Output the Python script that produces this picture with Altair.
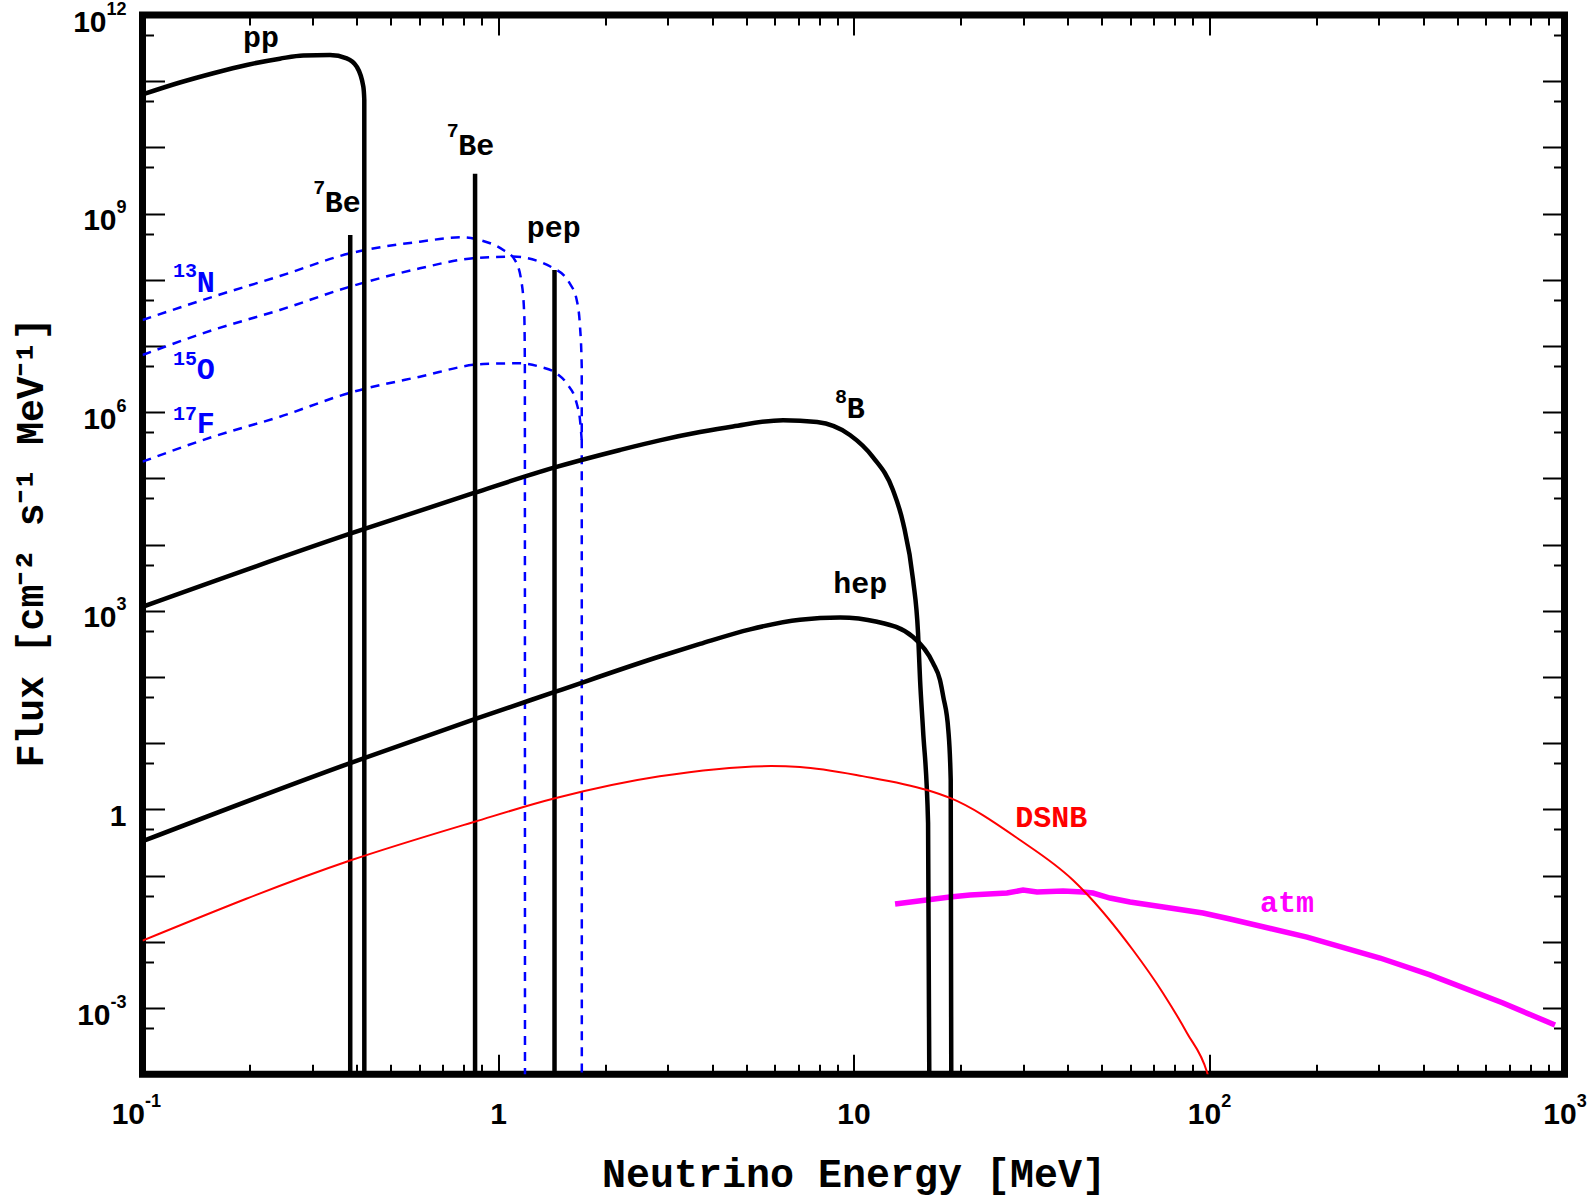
import math
import altair as alt
import pandas as pd

# ---------------- data ----------------
# energies in MeV, fluxes in cm^-2 s^-1 MeV^-1
pp_E = [0.1, 0.1274, 0.1582, 0.1964, 0.2435, 0.2834, 0.3369, 0.3753, 0.4004, 0.4179, 0.4206, 0.4207]
pp_F = [6.3e10, 9.55e10, 1.32e11, 1.76e11, 2.19e11, 2.45e11, 2.48e11, 2.21e11, 1.66e11, 8.32e10, 5.25e10, 1e-5]

n13_E = [0.1, 0.158, 0.2435, 0.3835, 0.603, 0.799, 0.890, 1.035, 1.116, 1.166, 1.186, 1.190, 1.191]
n13_F = [2.47e7, 5.56e7, 1.14e8, 2.51e8, 3.77e8, 4.39e8, 3.98e8, 2.82e8, 1.99e8, 8.85e7, 2.75e7, 4.85e6, 1e-5]

o15_E = [0.1, 0.158, 0.2435, 0.3835, 0.603, 0.852, 1.102, 1.428, 1.594, 1.665, 1.701, 1.720, 1.721]
o15_F = [7.31e6, 1.75e7, 3.50e7, 7.87e7, 1.49e8, 2.12e8, 2.24e8, 1.51e8, 8.71e7, 4.95e7, 1.96e7, 4.88e6, 1e-5]

f17_E = [0.1, 0.158, 0.2435, 0.3835, 0.603, 0.909, 1.153, 1.313, 1.462, 1.561, 1.665, 1.701, 1.720]
f17_F = [1.79e5, 4.27e5, 8.55e5, 1.97e6, 3.44e6, 5.35e6, 5.48e6, 4.85e6, 3.85e6, 2.72e6, 1.35e6, 7.62e5, 3.80e5]

b8_E = [0.1, 0.3837, 0.856, 1.428, 2.204, 2.849, 3.70, 4.58, 6.34, 7.90, 9.77, 11.34, 12.91, 13.79,
        14.71, 15.19, 15.39, 15.69, 16.21, 16.37]
b8_F = [1.15e3, 1.46e4, 6.03e4, 1.44e5, 2.69e5, 3.76e5, 5.01e5, 6.10e5, 7.59e5, 7.11e5, 4.53e5, 2.10e5,
        6.68e4, 2.12e4, 2.92e3, 462, 90.2, 15.8, 0.624, 1e-5]

hep_E = [0.1, 0.3837, 0.856, 1.437, 2.849, 3.70, 5.12, 7.07, 9.17, 11.65, 14.71, 16.74, 17.51, 17.89,
         18.48, 18.77, 18.85]
hep_F = [0.330, 5.01, 22.9, 58.9, 204, 316, 525, 733, 794, 684, 402, 162, 90.2, 50.1, 15.8, 2.78, 1e-5]

dsnb_E = [0.1, 0.3837, 0.8553, 1.437, 2.849, 5.87, 7.07, 10.6, 16.1, 18.68, 29.4, 41.4, 44.2, 61.1,
          74.2, 86.7, 98.7, 100.0]
dsnb_F = [0.0104, 0.169, 0.647, 1.46, 3.16, 4.51, 4.37, 3.18, 1.96, 1.49, 0.345, 0.0859, 0.0607,
          0.00752, 0.00169, 4.19e-4, 1.08e-4, 8.5e-5]

atm_E = [13.09, 18.68, 21.27, 27.03, 29.99, 32.83, 38.85, 44.21, 47.17, 52.66, 59.95, 77.7, 96.2,
         114.6, 188.7, 302.7, 418.6, 671.4, 940.4]
atm_F = [0.0372, 0.0475, 0.0509, 0.0546, 0.0605, 0.0565, 0.0585, 0.0565, 0.0546, 0.0458, 0.0399,
         0.0324, 0.0272, 0.0221, 0.0118, 0.00569, 0.00316, 0.00119, 5.53e-4]

# mono-energetic lines: 7Be (two) and pep
line_E = [0.384, 0.862, 1.442]
line_F = [4.75e8, 4.0e9, 1.41e8]
line_floor = [1e-4, 1e-4, 1e-4]

# annotation labels (left edge / baseline position in data units)
lab_text = ["pp", "Be", "Be", "pep", "N", "O", "F", "B", "hep", "DSNB", "atm"]
lab_E = [0.1918, 0.3255, 0.773, 1.204, 0.142, 0.142, 0.142, 9.57, 8.77, 28.5, 139.2]
lab_F = [3.32e11, 1.06e9, 7.67e9, 4.44e8, 6.61e7, 3.18e6, 4.85e5, 8.09e5, 1.84e3, 0.548, 0.0285]
lab_color = ["black", "black", "black", "black", "blue", "blue", "blue", "black", "black", "red", "magenta"]

sup_text = ["7", "7", "13", "15", "17", "8"]
sup_E = [0.302, 0.717, 0.1219, 0.1219, 0.1219, 8.87]
sup_F = [1.98e9, 1.44e10, 1.10e8, 5.16e6, 7.62e5, 1.36e6]
sup_color = ["black", "black", "blue", "blue", "blue", "black"]

# axes
x_domain = [0.1, 1000]
y_domain = [1e-4, 1e12]
x_label_values = [0.1, 1, 10, 100, 1000]
x_label_base = ["10", "1", "10", "10", "10"]
x_label_exp = ["-1", "", "", "2", "3"]
y_label_values = [1e-3, 1, 1e3, 1e6, 1e9, 1e12]
y_label_base = ["10", "1", "10", "10", "10", "10"]
y_label_exp = ["-3", "", "3", "6", "9", "12"]
x_major = [0.1, 1, 10, 100, 1000]
x_minor = [0.2, 0.3, 0.4, 0.5, 0.6, 0.7, 0.8, 0.9,
           2, 3, 4, 5, 6, 7, 8, 9,
           20, 30, 40, 50, 60, 70, 80, 90,
           200, 300, 400, 500, 600, 700, 800, 900]
y_major = [1e-4, 1e-3, 1e-2, 1e-1, 1, 1e1, 1e2, 1e3, 1e4, 1e5, 1e6, 1e7, 1e8, 1e9, 1e10, 1e11, 1e12]
y_minor = [5e-4, 5e-3, 5e-2, 5e-1, 5, 5e1, 5e2, 5e3, 5e4, 5e5, 5e6, 5e7, 5e8, 5e9, 5e10, 5e11]

# ---------------- chart ----------------
MONO = "Liberation Mono"
SANS = "Liberation Sans"
BASE_SIZE = 30
EXP_SIZE = 18

xs = alt.Scale(type="log", domain=x_domain, nice=False)
ys = alt.Scale(type="log", domain=y_domain, nice=False)


def label_expr(values, labels):
    e = "round(log(datum.value)/LN10)"
    s = ""
    for v, lab in zip(values, labels):
        s += f"{e}=={round(math.log10(v))} ? '{lab}' : "
    return s + "''"


X_BASE = label_expr(x_label_values, x_label_base)
X_EXP = label_expr(x_label_values, x_label_exp)
Y_BASE = label_expr(y_label_values, y_label_base)
Y_EXP = label_expr(y_label_values, y_label_exp)


def curve(E, F, color, width, dash=None, interp="monotone"):
    df = pd.DataFrame({"E": E, "F": F})
    kw = dict(color=color, strokeWidth=width, clip=True, interpolate=interp)
    if dash is not None:
        kw["strokeDash"] = dash
    return alt.Chart(df).mark_line(**kw).encode(
        x=alt.X("E:Q", scale=xs, axis=None),
        y=alt.Y("F:Q", scale=ys, axis=None),
    )


DASH = [9, 7]
atm = curve(atm_E, atm_F, "#FF00FF", 5.5, interp="linear")
n13 = curve(n13_E, n13_F, "#0000FF", 2.5, DASH)
o15 = curve(o15_E, o15_F, "#0000FF", 2.5, DASH)
f17 = curve(f17_E, f17_F, "#0000FF", 2.5, DASH)
pp = curve(pp_E, pp_F, "black", 4.5)
b8 = curve(b8_E, b8_F, "black", 4.5)
hep = curve(hep_E, hep_F, "black", 4.5)
dsnb = curve(dsnb_E, dsnb_F, "#FF0000", 2)

lines = alt.Chart(pd.DataFrame({"E": line_E, "F": line_F, "F0": line_floor})).mark_rule(
    color="black", strokeWidth=4.5, clip=True
).encode(
    x=alt.X("E:Q", scale=xs, axis=None),
    y=alt.Y("F:Q", scale=ys, axis=None),
    y2="F0:Q",
)

labels = alt.Chart(pd.DataFrame({"t": lab_text, "E": lab_E, "F": lab_F, "c": lab_color})).mark_text(
    font=MONO, fontWeight="bold", fontSize=30, align="left", baseline="alphabetic"
).encode(
    x=alt.X("E:Q", scale=xs, axis=None),
    y=alt.Y("F:Q", scale=ys, axis=None),
    text="t:N",
    color=alt.Color("c:N", scale=None),
)

sups = alt.Chart(pd.DataFrame({"t": sup_text, "E": sup_E, "F": sup_F, "c": sup_color})).mark_text(
    font=MONO, fontWeight="bold", fontSize=20, align="left", baseline="alphabetic"
).encode(
    x=alt.X("E:Q", scale=xs, axis=None),
    y=alt.Y("F:Q", scale=ys, axis=None),
    text="t:N",
    color=alt.Color("c:N", scale=None),
)

corner = pd.DataFrame({"E": x_domain, "F": y_domain})


def axis_layer(xaxis, yaxis):
    return alt.Chart(corner).mark_point(opacity=0).encode(
        x=alt.X("E:Q", scale=xs, axis=xaxis),
        y=alt.Y("F:Q", scale=ys, axis=yaxis),
    )


def tick_axis(orient, values, size):
    return alt.Axis(
        orient=orient, values=values, labels=False, domain=False, grid=False,
        ticks=True, tickSize=size, tickWidth=2, tickColor="black",
        offset=-size, title=None,
    )


def xlab(values, expr, size, align, offset, padding, **kw):
    d = dict(
        orient="bottom", values=values, labelExpr=expr, ticks=False, domain=False, grid=False,
        labelFont=SANS, labelFontWeight="bold", labelFontSize=size, labelColor="black",
        labelAlign=align, labelOffset=offset, labelPadding=padding, labelBaseline="alphabetic",
        labelFlush=False, labelOverlap=False, title=None,
    )
    d.update(kw)
    return alt.Axis(**d)


def ylab(values, expr, size, padding, offset, **kw):
    d = dict(
        orient="left", values=values, labelExpr=expr, ticks=False, domain=False, grid=False,
        labelFont=SANS, labelFontWeight="bold", labelFontSize=size, labelColor="black",
        labelAlign="right", labelOffset=offset, labelPadding=padding, labelBaseline="alphabetic",
        labelFlush=False, labelOverlap=False, title=None,
    )
    d.update(kw)
    return alt.Axis(**d)


x_title = dict(
    title="Neutrino Energy [MeV]", titleFont=MONO, titleFontWeight="bold",
    titleFontSize=40, titleColor="black", titleY=112, titleBaseline="alphabetic",
)
y_title = dict(
    title="Flux [cm⁻² s⁻¹ MeV⁻¹]", titleFont=MONO, titleFontWeight="bold",
    titleFontSize=38, titleColor="black", titleAngle=270, titleX=-100,
    titleY=527, titleAlign="center", titleBaseline="alphabetic",
)

label_layers = [
    axis_layer(
        xlab([1, 10], X_BASE, BASE_SIZE, "center", 0, 49, **x_title),
        ylab([1], Y_BASE, BASE_SIZE, 16.5, 16, **y_title),
    ),
    axis_layer(
        xlab([100, 1000], X_BASE, BASE_SIZE, "right", 11.7, 49),
        ylab([1e3, 1e6, 1e9], Y_BASE, BASE_SIZE, 26.5, 16),
    ),
    axis_layer(
        xlab([0.1], X_BASE, BASE_SIZE, "right", 2, 49),
        ylab([1e12], Y_BASE, BASE_SIZE, 36.5, 16),
    ),
    axis_layer(
        xlab([100, 1000], X_EXP, EXP_SIZE, "left", 11.7, 32),
        ylab([1e-3], Y_BASE, BASE_SIZE, 32.5, 16),
    ),
    axis_layer(
        xlab([0.1], X_EXP, EXP_SIZE, "left", 2, 32),
        ylab([1e-3, 1e3, 1e6, 1e9, 1e12], Y_EXP, EXP_SIZE, 16.5, -1),
    ),
]

tick_layers = [
    axis_layer(tick_axis("bottom", x_major, 20), tick_axis("left", y_major, 22)),
    axis_layer(tick_axis("bottom", x_minor, 10), tick_axis("left", y_minor, 11)),
    axis_layer(tick_axis("top", x_major, 20), tick_axis("right", y_major, 22)),
    axis_layer(tick_axis("top", x_minor, 10), tick_axis("right", y_minor, 11)),
]

chart = alt.layer(
    atm, n13, o15, f17, lines, pp, b8, hep, dsnb, labels, sups, *label_layers, *tick_layers
).resolve_axis(
    x="independent", y="independent"
).properties(
    width=1422, height=1059.2,
    autosize=alt.AutoSizeParams(type="none"),
    padding={"left": 142.5, "top": 15, "right": 26.5, "bottom": 124.8},
    background="white",
).configure_view(
    stroke="black", strokeWidth=7
)

chart.save("out.html", embed_options={"renderer": "svg", "actions": False})
